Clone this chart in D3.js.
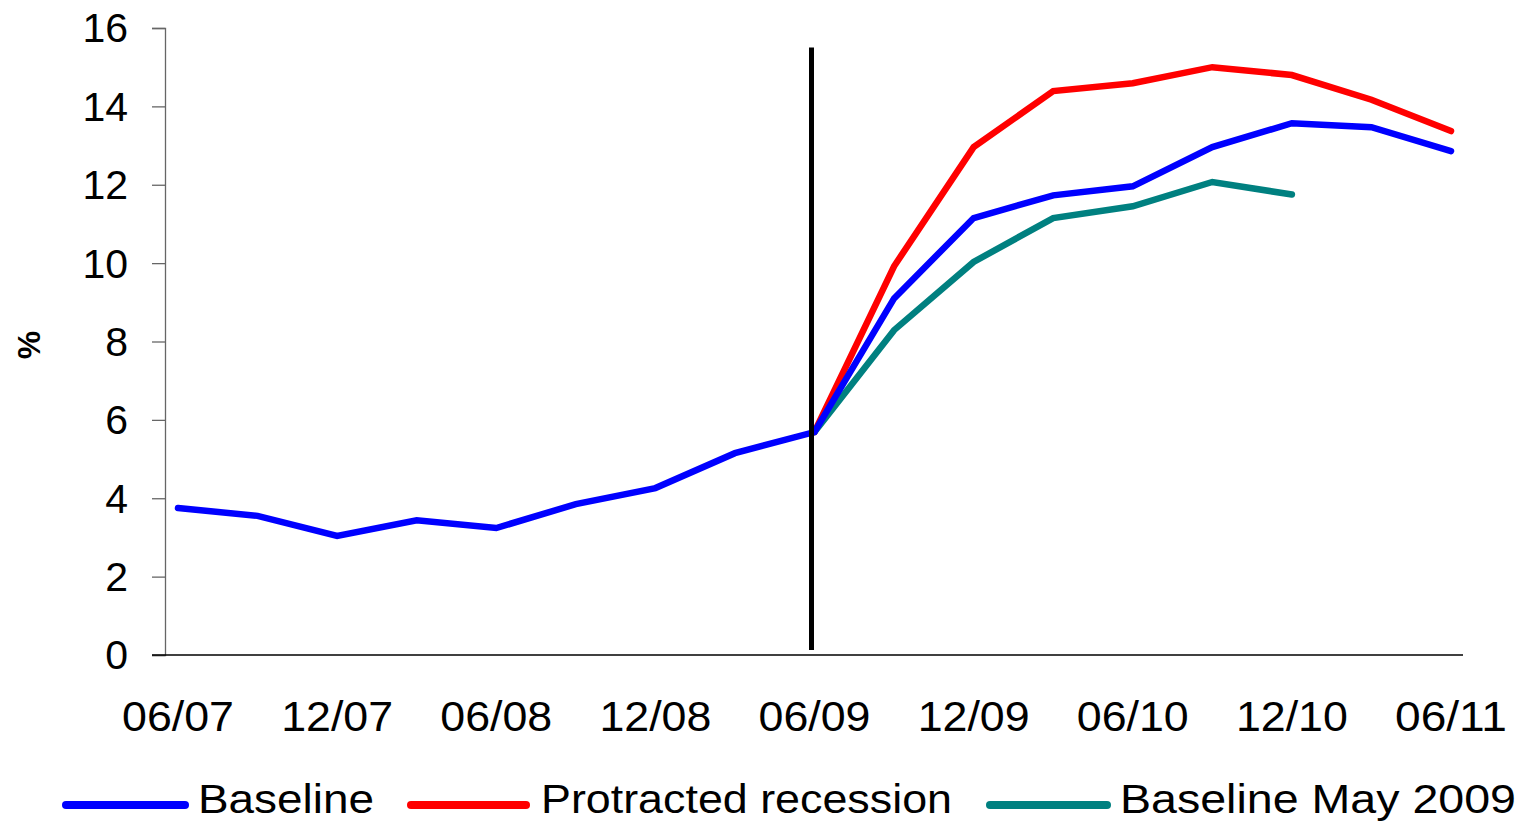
<!DOCTYPE html>
<html>
<head>
<meta charset="utf-8">
<script src="https://cdn.jsdelivr.net/npm/d3@7"></script>
<style>
  html, body { margin: 0; padding: 0; background: #fff; }
  svg { display: block; font-family: "Liberation Sans", Arial, sans-serif; }
</style>
</head>
<body>
<svg id="chart" width="1528" height="822"></svg>
<script>
// Quarter-end periods, June 2007 to June 2011
const quarters = ["06/07","09/07","12/07","03/08","06/08","09/08","12/08","03/09",
                  "06/09","09/09","12/09","03/10","06/10","09/10","12/10","03/11","06/11"];
const tickLabels = ["06/07","12/07","06/08","12/08","06/09","12/09","06/10","12/10","06/11"];
const yTicks = [0, 2, 4, 6, 8, 10, 12, 14, 16];

// Unemployment rate, %
const baseline = [3.75, 3.55, 3.04, 3.44, 3.24, 3.85, 4.26, 5.15,
                  5.69, 9.1, 11.15, 11.73, 11.96, 12.96, 13.57, 13.47, 12.86];
const protracted = [null, null, null, null, null, null, null, null,
                    5.69, 9.92, 12.96, 14.39, 14.59, 15.0, 14.8, 14.17, 13.37];
const baselineMay2009 = [null, null, null, null, null, null, null, null,
                         5.69, 8.29, 10.03, 11.15, 11.45, 12.07, 11.75, null, null];

// Forecast start marker
const markerPeriod = "06/09";
const markerRange = [0, 15.5];

const seriesNames = ["Baseline", "Protracted recession", "Baseline May 2009"];
const seriesColors = ["#0000ff", "#ff0000", "#008080"];
const seriesValues = [baseline, protracted, baselineMay2009];

const svg = d3.select("#chart");

const x = d3.scalePoint().domain(quarters).range([178, 1451]);
const y = d3.scaleLinear().domain([0, 16]).range([655, 28]);

// Y axis
const yAxis = svg.append("g")
  .attr("transform", "translate(165,0)")
  .call(d3.axisLeft(y).tickValues(yTicks).tickSize(13).tickPadding(10).tickFormat(d3.format("d")));
yAxis.select(".domain").attr("stroke", "#666").attr("stroke-width", 1.3);
yAxis.selectAll(".tick line").attr("stroke", "#666").attr("stroke-width", 1.3);
yAxis.selectAll(".tick text")
  .attr("font-size", 41).attr("fill", "#000")
  .attr("font-family", "'Liberation Sans', Arial, sans-serif")
  .attr("x", -37).attr("dy", "0.34em");

// X axis baseline
svg.append("line")
  .attr("x1", 152).attr("x2", 1463)
  .attr("y1", y(0)).attr("y2", y(0))
  .attr("stroke", "#000").attr("stroke-width", 1.5);

// X tick labels
svg.append("g").selectAll("text")
  .data(tickLabels)
  .join("text")
  .attr("x", d => x(d))
  .attr("y", 731)
  .attr("text-anchor", "middle")
  .attr("font-size", 42)
  .attr("textLength", 112)
  .attr("lengthAdjust", "spacingAndGlyphs")
  .text(d => d);

// Y axis title
svg.append("text")
  .attr("transform", "translate(40,345) rotate(-90)")
  .attr("text-anchor", "middle")
  .attr("font-size", 32)
  .attr("font-weight", "bold")
  .text("%");

// Series lines
const line = d3.line()
  .defined(d => d.v != null)
  .x(d => x(d.q))
  .y(d => y(d.v));

// Draw so that baseline sits on top of the scenario lines
const drawOrder = [1, 2, 0];
drawOrder.forEach(i => {
  const pts = quarters.map((q, k) => ({ q, v: seriesValues[i][k] }));
  svg.append("path")
    .datum(pts)
    .attr("fill", "none")
    .attr("stroke", seriesColors[i])
    .attr("stroke-width", 6.5)
    .attr("stroke-linejoin", "miter")
    .attr("stroke-linecap", "round")
    .attr("d", line);
});

// Vertical marker
svg.append("line")
  .attr("x1", x(markerPeriod) - 3).attr("x2", x(markerPeriod) - 3)
  .attr("y1", y(markerRange[0]) - 5).attr("y2", y(markerRange[1]))
  .attr("stroke", "#000").attr("stroke-width", 5);

// Legend
const legendItems = [
  { x1: 66, x2: 185, tx: 198, tl: 176 },
  { x1: 411, x2: 526, tx: 541, tl: 411 },
  { x1: 990, x2: 1107, tx: 1120, tl: 396 }
];
const legend = svg.append("g");
legendItems.forEach((it, i) => {
  legend.append("line")
    .attr("x1", it.x1).attr("x2", it.x2)
    .attr("y1", 805).attr("y2", 805)
    .attr("stroke", seriesColors[i])
    .attr("stroke-width", 8)
    .attr("stroke-linecap", "round");
  legend.append("text")
    .attr("x", it.tx).attr("y", 813)
    .attr("font-size", 40)
    .attr("textLength", it.tl)
    .attr("lengthAdjust", "spacingAndGlyphs")
    .text(seriesNames[i]);
});
</script>
</body>
</html>
